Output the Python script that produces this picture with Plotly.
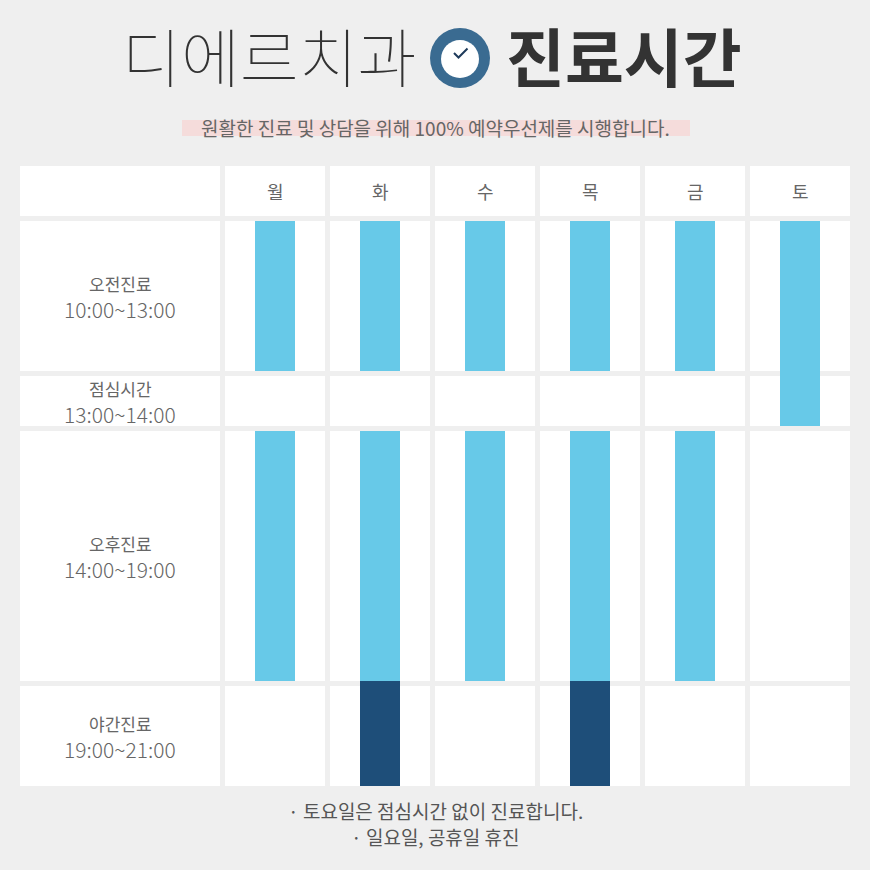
import plotly.graph_objects as go

# 진료시간표 데이터
days = ["월", "화", "수", "목", "금", "토"]
row_names = ["오전진료", "점심시간", "오후진료", "야간진료"]
row_times = ["10:00~13:00", "13:00~14:00", "14:00~19:00", "19:00~21:00"]
row_start = [10, 13, 14, 19]
row_end = [13, 14, 19, 21]

# 요일별 진료 구간 (시작, 끝)
day_hours = [10, 10, 10, 10, 10, 10]
morning_end = [13, 13, 13, 13, 13, 14]
afternoon_days = ["월", "화", "수", "목", "금"]
afternoon_start = [14, 14, 14, 14, 14]
afternoon_end = [19, 19, 19, 19, 19]
night_days = ["화", "목"]
night_start = [19, 19]
night_end = [21, 21]

notes = ["· 토요일은 점심시간 없이 진료합니다.", "· 일요일, 공휴일 휴진"]

FONT = "Noto Sans CJK KR"
BG = "#efefef"
LIGHT = "#67c9e8"
DARK = "#1e4e79"
TXT = "#666666"
GAP = 0.1  # row gap in hour units

# y position of each row (hours + gaps)
row_top, row_bot = [], []
acc = 0
for i, (s, e) in enumerate(zip(row_start, row_end)):
    row_top.append(acc)
    row_bot.append(acc + (e - s))
    acc += (e - s) + GAP


def y_start(t):
    return row_top[row_start.index(t)]


def y_end(t):
    return row_bot[row_end.index(t)]


fig = go.Figure()

# table cells
shapes = []
col_half = 0.476
lab_x0, lab_x1 = -2.4286, -0.5238
head_top, head_bot = -1.1, -0.1
shapes.append(dict(type="rect", xref="x", yref="y", x0=lab_x0, x1=lab_x1,
                   y0=head_top, y1=head_bot, fillcolor="white", line_width=0, layer="below"))
for i in range(len(days)):
    shapes.append(dict(type="rect", xref="x", yref="y", x0=i - col_half, x1=i + col_half,
                       y0=head_top, y1=head_bot, fillcolor="white", line_width=0, layer="below"))
for r in range(len(row_names)):
    shapes.append(dict(type="rect", xref="x", yref="y", x0=lab_x0, x1=lab_x1,
                       y0=row_top[r], y1=row_bot[r], fillcolor="white", line_width=0, layer="below"))
    for i in range(len(days)):
        shapes.append(dict(type="rect", xref="x", yref="y", x0=i - col_half, x1=i + col_half,
                           y0=row_top[r], y1=row_bot[r], fillcolor="white", line_width=0,
                           layer="below"))

# bars
bw = 0.381
m_base = [y_start(s) for s in day_hours]
m_len = [y_end(e) - y_start(s) for s, e in zip(day_hours, morning_end)]
fig.add_trace(go.Bar(x=list(range(len(days))), y=m_len, base=m_base, width=bw,
                     marker=dict(color=LIGHT, line_width=0), hoverinfo="skip"))
a_x = [days.index(d) for d in afternoon_days]
a_base = [y_start(s) for s in afternoon_start]
a_len = [y_end(e) - y_start(s) for s, e in zip(afternoon_start, afternoon_end)]
fig.add_trace(go.Bar(x=a_x, y=a_len, base=a_base, width=bw,
                     marker=dict(color=LIGHT, line_width=0), hoverinfo="skip"))
# night block joins the afternoon block
n_x = [days.index(d) for d in night_days]
n_base = [y_end(s) for s in night_start]
n_len = [y_end(e) - y_end(s) for s, e in zip(night_start, night_end)]
fig.add_trace(go.Bar(x=n_x, y=n_len, base=n_base, width=bw,
                     marker=dict(color=DARK, line_width=0), hoverinfo="skip"))

annotations = []
for i, d in enumerate(days):
    annotations.append(dict(x=i, y=(head_top + head_bot) / 2, xref="x", yref="y", text=d,
                            showarrow=False, yanchor="middle",
                            font=dict(family=FONT, size=18, color=TXT)))
for r in range(len(row_names)):
    yc = (row_top[r] + row_bot[r]) / 2
    annotations.append(dict(x=(lab_x0 + lab_x1) / 2, y=yc - 0.26, xref="x", yref="y",
                            text=row_names[r], showarrow=False, yanchor="middle",
                            font=dict(family=FONT, size=17, color=TXT)))
    annotations.append(dict(x=(lab_x0 + lab_x1) / 2, y=yc + 0.25, xref="x", yref="y",
                            text=row_times[r], showarrow=False, yanchor="middle",
                            font=dict(family=FONT, size=21, color=TXT, weight=300)))


def px(v):
    return v / 870


def py(v):
    return 1 - v / 870


# title
annotations.append(dict(x=px(418), y=py(54), xref="paper", yref="paper", text="디에르치과",
                        xanchor="right", yanchor="middle", showarrow=False,
                        font=dict(family=FONT, size=64, color="#333333", weight=100)))
annotations.append(dict(x=px(504), y=py(54), xref="paper", yref="paper", text="진료시간",
                        xanchor="left", yanchor="middle", showarrow=False,
                        font=dict(family=FONT, size=64, color="#333333", weight=700)))
# clock icon
shapes.append(dict(type="circle", xref="paper", yref="paper", x0=px(430), x1=px(490),
                   y0=py(88), y1=py(28), fillcolor="#3a6b91", line_width=0))
shapes.append(dict(type="circle", xref="paper", yref="paper", x0=px(441), x1=px(479),
                   y0=py(78), y1=py(40), fillcolor="white", line_width=0))
shapes.append(dict(type="path", xref="paper", yref="paper",
                   path=f"M {px(454)} {py(53)} L {px(458.5)} {py(57.5)} L {px(467.5)} {py(48.5)}",
                   line=dict(color="#1e3a5a", width=2)))

# subtitle with highlight
shapes.append(dict(type="rect", xref="paper", yref="paper", x0=px(182), x1=px(690),
                   y0=py(136), y1=py(120), fillcolor="#f5dcdb", line_width=0, layer="below"))
annotations.append(dict(x=0.5, y=py(127), xref="paper", yref="paper",
                        text="원활한 진료 및 상담을 위해 100% 예약우선제를 시행합니다.",
                        showarrow=False, yanchor="middle",
                        font=dict(family=FONT, size=19, color=TXT)))

# notes
for k, n in enumerate(notes):
    annotations.append(dict(x=0.5, y=py(810 + 26 * k), xref="paper", yref="paper", text=n,
                            showarrow=False, yanchor="middle",
                            font=dict(family=FONT, size=19, color="#555555")))

fig.update_layout(
    width=870, height=870,
    margin=dict(l=0, r=0, t=0, b=0),
    paper_bgcolor=BG, plot_bgcolor=BG,
    showlegend=False, barmode="overlay",
    shapes=shapes, annotations=annotations,
    xaxis=dict(range=[-275 / 105, (870 - 275) / 105], visible=False, fixedrange=True),
    yaxis=dict(range=[(870 - 221) / 50, -221 / 50], visible=False, fixedrange=True),
)

fig.write_html("out.html", config={"displayModeBar": False},
               post_script="document.body.style.margin='0';")
